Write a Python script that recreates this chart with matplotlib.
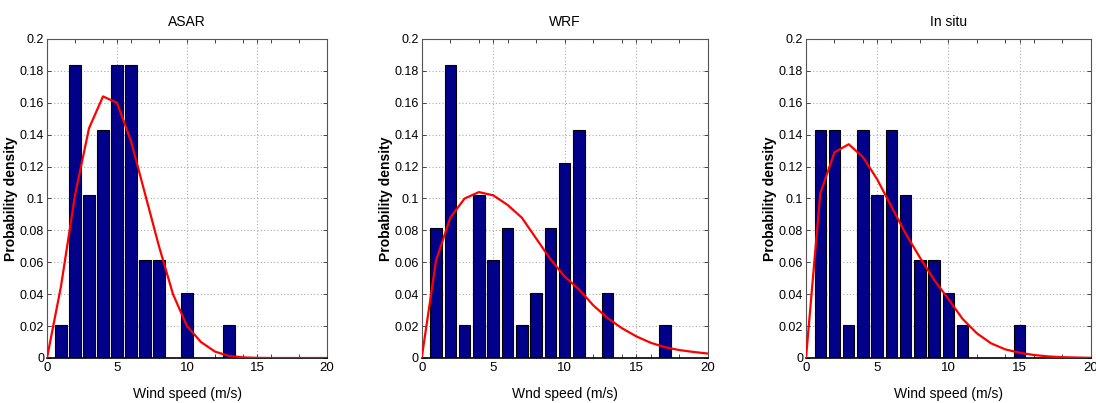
import matplotlib
matplotlib.use("Agg")
import matplotlib.pyplot as plt
from matplotlib.ticker import FixedLocator

plt.rcParams['font.family'] = ['Liberation Sans Narrow', 'Liberation Sans', 'DejaVu Sans']

# Histogram bins (wind speed, m/s) and probability densities per dataset
asar_speed = [1, 2, 3, 4, 5, 6, 7, 8, 10, 13]
asar_density = [0.0204, 0.1837, 0.1020, 0.1429, 0.1837, 0.1837, 0.0612, 0.0612, 0.0408, 0.0204]

wrf_speed = [1, 2, 3, 4, 5, 6, 7, 8, 9, 10, 11, 13, 17]
wrf_density = [0.0816, 0.1837, 0.0204, 0.1020, 0.0612, 0.0816, 0.0204, 0.0408,
               0.0816, 0.1224, 0.1429, 0.0408, 0.0204]

insitu_speed = [1, 2, 3, 4, 5, 6, 7, 8, 9, 10, 11, 15]
insitu_density = [0.1429, 0.1429, 0.0204, 0.1429, 0.1020, 0.1429, 0.1020, 0.0612,
                  0.0612, 0.0408, 0.0204, 0.0204]

# Fitted distribution curves sampled at integer wind speeds 0..20
fit_speed = list(range(0, 21))
asar_fit = [0.0, 0.045, 0.102, 0.144, 0.164, 0.160, 0.136, 0.103, 0.070, 0.040,
            0.020, 0.010, 0.004, 0.0013, 0.0004, 0.0001, 0.0, 0.0, 0.0, 0.0, 0.0]
wrf_fit = [0.0, 0.061, 0.088, 0.100, 0.104, 0.102, 0.096, 0.088, 0.075, 0.062,
           0.051, 0.043, 0.033, 0.025, 0.0187, 0.0136, 0.0096, 0.0068, 0.0050,
           0.0038, 0.0028]
insitu_fit = [0.0, 0.103, 0.129, 0.134, 0.126, 0.112, 0.095, 0.078, 0.063, 0.049,
              0.037, 0.0245, 0.0155, 0.0092, 0.0054, 0.0033, 0.0019, 0.0010,
              0.0005, 0.0003, 0.0001]

titles = ["ASAR", "WRF", "In situ"]
xlabels = ["Wind speed (m/s)", "Wnd speed (m/s)", "Wind speed (m/s)"]
y_ticks = [0, 0.02, 0.04, 0.06, 0.08, 0.1, 0.12, 0.14, 0.16, 0.18, 0.2]
y_ticklabels = ["0", "0.02", "0.04", "0.06", "0.08", "0.1", "0.12", "0.14", "0.16", "0.18", "0.2"]
x_ticks = [0, 5, 10, 15, 20]

panels = [
    (asar_speed, asar_density, asar_fit),
    (wrf_speed, wrf_density, wrf_fit),
    (insitu_speed, insitu_density, insitu_fit),
]

W, H = 1096, 403
fig = plt.figure(figsize=(W / 100, H / 100), dpi=100)
boxes = [(47, 327), (421.7, 707.7), (806, 1090.7)]
top_px, bot_px = 39, 358

for (x0, x1), (spd, dens, fit), title, xl in zip(boxes, panels, titles, xlabels):
    ax = fig.add_axes([x0 / W, 1 - bot_px / H, (x1 - x0) / W, (bot_px - top_px) / H])
    ax.bar(spd, dens, width=0.8, color='#000088', edgecolor='black', linewidth=0.8, zorder=2)
    ax.plot(fit_speed, fit, color='#FF0000', linewidth=1.6, zorder=3)
    ax.set_xlim(0, 20)
    ax.set_ylim(0, 0.2)
    ax.set_xticks(x_ticks)
    ax.set_xticklabels([str(t) for t in x_ticks])
    ax.xaxis.set_minor_locator(FixedLocator([t for t in range(0, 21, 2) if t % 5 != 0]))
    ax.set_yticks(y_ticks)
    ax.set_yticklabels(y_ticklabels)
    ax.tick_params(which='both', direction='in', top=True, right=True,
                   length=3, width=0.7, color='#444444', labelsize=9.5, pad=3)
    ax.tick_params(axis='y', labelsize=9, pad=2)
    ax.grid(True, which='major', linestyle=(0, (1, 2)), color='#aaaaaa', linewidth=0.8, zorder=0)
    ax.set_axisbelow(True)
    for side in ('top', 'right', 'left'):
        ax.spines[side].set_color('#555555')
        ax.spines[side].set_linewidth(0.8)
    ax.spines['bottom'].set_color('black')
    ax.spines['bottom'].set_linewidth(1.2)
    ax.set_title(title, fontsize=10, pad=9)
    ax.set_xlabel(xl, fontsize=10, labelpad=9)
    ax.set_ylabel("Probability density", fontsize=10, fontweight='bold',
                  family=['Liberation Sans', 'DejaVu Sans'])
    ax.yaxis.set_label_coords(-0.102, 0.5)

fig.savefig("out.png", dpi=100)
